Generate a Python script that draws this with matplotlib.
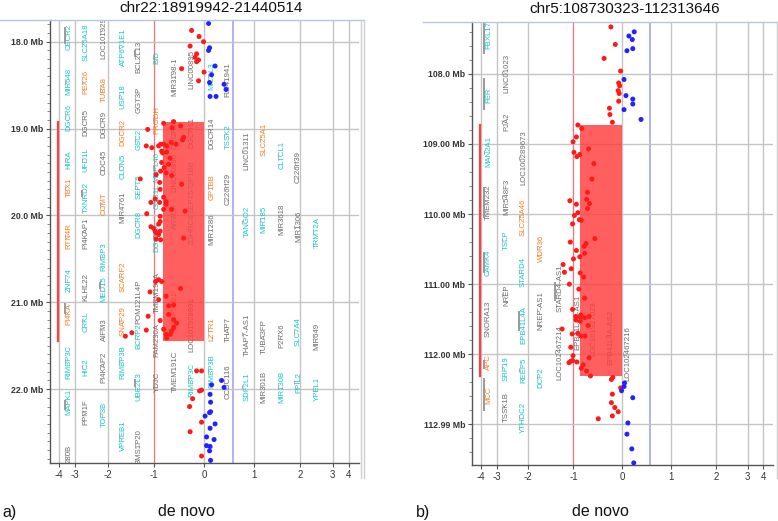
import numpy as np
import matplotlib
matplotlib.use("Agg")
import matplotlib.pyplot as plt
import matplotlib.transforms as mtransforms
from matplotlib.lines import Line2D
from matplotlib.patches import Rectangle

plt.rcParams['font.family'] = ['Liberation Sans', 'DejaVu Sans']

# ---- data panel a : chr22 ----
titre_a = "chr22:18919942-21440514"
cnv_a = (18.919942, 21.440514)
rect_a_x = -0.82
ylim_a = (22.85, 17.75)
yticks_a = [18, 19, 20, 21, 22]
ylabels_a = ["18.0 Mb", "19.0 Mb", "20.0 Mb", "21.0 Mb", "22.0 Mb"]

red_a = [(-0.25, 17.87), (-0.10, 17.94), (-0.01, 18.00), (-0.28, 18.05), (-0.15, 18.14),
         (-0.18, 18.18), (-0.11, 18.21), (-0.15, 18.23), (-0.45, 18.31), (0.00, 18.35),
         (-0.11, 18.45),
         (-0.61, 18.92), (-0.81, 18.94), (-0.47, 18.97), (-0.64, 18.99), (-1.14, 19.01),
         (-0.41, 19.10), (-0.43, 19.13), (-0.66, 19.16), (-0.56, 19.18), (-0.81, 19.18),
         (-0.87, 19.18), (-1.17, 19.20), (-0.75, 19.20), (-0.91, 19.20), (-1.05, 19.22),
         (-0.85, 19.26), (-0.75, 19.27), (-0.83, 19.28), (-0.68, 19.34), (-0.85, 19.39),
         (-0.71, 19.41), (-0.80, 19.45), (-0.87, 19.49), (-0.76, 19.51), (-0.96, 19.53),
         (-0.65, 19.54), (-1.30, 19.58), (-0.89, 19.62), (-0.45, 19.64), (-0.88, 19.70),
         (-0.81, 19.79), (-0.98, 19.81), (-0.76, 19.84), (-1.07, 19.85), (-0.89, 19.85),
         (-0.76, 19.87), (-0.81, 19.93), (-0.65, 19.93), (-0.38, 19.95), (-1.16, 19.98),
         (-0.88, 20.01), (-0.88, 20.07), (-0.91, 20.10), (-1.07, 20.13), (-1.01, 20.15),
         (-0.98, 20.18), (-0.88, 20.18), (-0.96, 20.20), (-0.91, 20.22), (-0.41, 20.26),
         (-0.96, 20.27), (-0.87, 20.28), (-0.91, 20.74), (-0.97, 20.76), (-0.85, 20.76),
         (-0.47, 20.84), (-1.09, 20.88), (-0.76, 20.93), (-0.91, 20.97), (-0.61, 21.03),
         (-0.71, 21.04), (-0.71, 21.14), (-1.13, 21.16), (-0.61, 21.20), (-0.88, 21.21),
         (-0.55, 21.24), (-0.61, 21.29), (-0.81, 21.31), (-1.17, 21.32), (-0.65, 21.33),
         (-1.48, 21.35), (-0.68, 21.37), (-0.76, 21.37), (-1.62, 21.39), (-0.75, 21.41),
         (-0.15, 21.79), (-0.05, 21.79), (-0.09, 22.02), (-0.05, 22.01), (-0.23, 22.11),
         (-0.29, 22.20), (-0.05, 22.38), (-0.28, 22.49), (-0.05, 22.77)]
blue_a = [(0.09, 17.79), (0.11, 18.07), (0.09, 18.10), (0.22, 18.28), (0.15, 18.38),
          (0.11, 18.47), (0.40, 18.49), (0.44, 18.55), (0.12, 18.63), (0.24, 18.63),
          (0.35, 21.90), (0.15, 21.95), (0.40, 21.98), (0.12, 22.06), (0.13, 22.15),
          (0.13, 22.26), (0.11, 22.27), (0.02, 22.31), (0.22, 22.40), (0.12, 22.45),
          (0.05, 22.55), (0.20, 22.58), (0.05, 22.65), (0.12, 22.66), (0.11, 22.71),
          (0.13, 22.82)]

# gene, x, y, colour code (c=cyan, o=orange, g=grey)
genes_a = [
    ("CECR2", -3.38, 17.95, 'c'), ("MIR648", -3.38, 18.46, 'c'), ("DGCR6", -3.38, 18.87, 'c'),
    ("HIRA", -3.38, 19.36, 'c'), ("TBX1", -3.38, 19.68, 'o'), ("RTN4R", -3.38, 20.24, 'o'),
    ("ZNF74", -3.38, 20.74, 'c'), ("PI4KA", -3.38, 21.14, 'o'), ("RIMBP3C", -3.38, 21.69, 'c'),
    ("MAPK1", -3.38, 22.15, 'c'), ("280B", -3.38, 22.75, 'g'),
    ("SLC25A18", -2.66, 18.01, 'c'), ("PEX26", -2.66, 18.46, 'o'), ("DGCR5", -2.66, 18.93, 'g'),
    ("UFD1L", -2.66, 19.36, 'c'), ("TXNRD2", -2.66, 19.79, 'c'), ("PI4KAP1", -2.66, 20.20, 'g'),
    ("KLHL22", -2.66, 20.82, 'g'), ("CRKL", -2.66, 21.22, 'c'), ("HIC2", -2.66, 21.75, 'c'),
    ("PPM1F", -2.66, 22.26, 'g'),
    ("LOC101929372", -2.11, 17.88, 'g'), ("TUBA8", -2.11, 18.55, 'o'), ("DGCR9", -2.11, 18.95, 'g'),
    ("CDC45", -2.11, 19.39, 'g'), ("COMT", -2.11, 19.87, 'o'), ("RIMBP3", -2.11, 20.48, 'c'),
    ("MED15", -2.11, 20.85, 'c'), ("AIFM3", -2.11, 21.31, 'g'), ("PI4KAP2", -2.11, 21.75, 'g'),
    ("TOP3B", -2.11, 22.29, 'c'),
    ("ATP6V1E1", -1.67, 18.06, 'c'), ("USP18", -1.67, 18.63, 'c'), ("DGCR2", -1.67, 19.05, 'o'),
    ("CLDN5", -1.67, 19.44, 'c'), ("MIR4761", -1.67, 19.90, 'g'), ("SCARF2", -1.67, 20.70, 'o'),
    ("SNAP29", -1.67, 21.22, 'o'), ("RIMBP3B", -1.67, 21.69, 'c'), ("VPREB1", -1.67, 22.54, 'c'),
    ("BCL2L13", -1.32, 18.18, 'g'), ("GGT3P", -1.32, 18.67, 'g'), ("GSC2", -1.32, 19.13, 'c'),
    ("SEPT5", -1.32, 19.67, 'c'), ("DGCR8", -1.32, 20.10, 'c'), ("POM121L4P", -1.32, 21.00, 'g'),
    ("BCRP2", -1.32, 21.39, 'c'), ("UBE2L3", -1.32, 21.97, 'c'), ("BMS1P20", -1.32, 22.66, 'g'),
    ("BID", -0.94, 18.18, 'c'), ("PRODH", -0.94, 18.90, 'o'), ("MRPL40", -0.94, 19.44, 'c'),
    ("GNB1L", -0.94, 19.78, 'c'), ("DGCR6L", -0.94, 20.24, 'c'), ("TMEM191A", -0.94, 20.89, 'g'),
    ("FAM230A", -0.94, 21.43, 'g'), ("YDJC", -0.94, 21.92, 'g'),
    ("MIR3198-1", -0.58, 18.40, 'g'), ("DGCR10", -0.58, 19.05, 'g'), ("LINC00896", -0.58, 19.51, 'g'),
    ("ARVCF", -0.58, 20.01, 'c'), ("SERPIND1", -0.58, 21.10, 'o'), ("TMEM191C", -0.58, 21.79, 'g'),
    ("LINC00895", -0.24, 18.32, 'g'), ("DGCR11", -0.24, 19.05, 'g'), ("SEPT5-GP1BB", -0.24, 19.67, 'c'),
    ("ZDHHC8", -0.24, 20.16, 'c'), ("LOC101928891", -0.24, 21.25, 'g'), ("RIMBP3C", -0.24, 21.89, 'c'),
    ("MICAL3", 0.16, 18.40, 'c'), ("DGCR14", 0.16, 19.05, 'g'), ("GP1BB", 0.16, 19.67, 'o'),
    ("MIR1286", 0.16, 20.16, 'g'), ("LZTR1", 0.16, 21.31, 'o'), ("RIMBP3B", 0.16, 21.79, 'c'),
    ("FLJ41941", 0.48, 18.44, 'g'), ("TSSK2", 0.48, 19.09, 'c'), ("C22orf29", 0.48, 19.70, 'g'),
    ("THAP7", 0.48, 21.31, 'g'), ("CCDC116", 0.48, 21.92, 'g'),
    ("LINC01311", 0.86, 19.26, 'g'), ("TANGO2", 0.86, 20.07, 'c'), ("THAP7-AS1", 0.86, 21.37, 'g'),
    ("SDF2L1", 0.86, 21.97, 'c'),
    ("SLC25A1", 1.22, 19.13, 'o'), ("MIR185", 1.22, 20.05, 'c'), ("TUBA3FP", 1.22, 21.39, 'g'),
    ("MIR301B", 1.22, 21.97, 'g'),
    ("CLTCL1", 1.61, 19.30, 'c'), ("MIR3618", 1.61, 20.05, 'g'), ("P2RX6", 1.61, 21.39, 'g'),
    ("MIR130B", 1.61, 21.97, 'c'),
    ("C22orf39", 1.96, 19.44, 'g'), ("MIR1306", 1.96, 20.13, 'g'), ("SLC7A4", 1.96, 21.34, 'c'),
    ("PPIL2", 1.96, 21.92, 'c'),
    ("TRMT2A", 2.52, 20.20, 'c'), ("MIR649", 2.52, 21.39, 'g'), ("YPEL1", 2.52, 22.00, 'c'),
]
spans_a = [(-3.38, 17.84, 18.01), (-3.38, 21.02, 21.12), (-3.38, 22.14, 22.23),
           (-1.32, 18.11, 18.17), (-2.66, 19.72, 19.78), (-2.11, 20.78, 20.84),
           (-1.32, 21.90, 21.96)]

# ---- data panel b : chr5 ----
titre_b = "chr5:108730323-112313646"
cnv_b = (108.730323, 112.313646)
rect_b_x = -0.87
ylim_b = (113.58, 107.26)
yticks_b = [108, 109, 110, 111, 112, 113]
ylabels_b = ["108.0 Mb", "109.00 Mb", "110.00 Mb", "111.00 Mb", "112.00 Mb", "112.99 Mb"]

red_b = [(-0.23, 107.33), (-0.14, 107.58), (-0.37, 107.78), (-0.03, 107.96), (-0.07, 108.13),
         (-0.05, 108.17), (-0.08, 108.24), (-0.06, 108.28), (-0.07, 108.39), (-0.26, 108.49),
         (-0.25, 108.58), (-0.20, 108.69),
         (-0.91, 108.73), (-0.83, 108.78), (-0.94, 108.90), (-1.01, 108.97), (-0.69, 109.07),
         (-0.99, 109.12), (-0.87, 109.15), (-0.93, 109.18), (-0.58, 109.28), (-0.62, 109.50),
         (-0.71, 109.69), (-0.73, 109.79), (-1.08, 109.81), (-0.67, 109.85), (-0.94, 109.86),
         (-0.71, 109.92), (-0.91, 109.98), (-0.98, 110.02), (-0.88, 110.08), (-0.84, 110.09),
         (-1.02, 110.14), (-0.56, 110.35), (-1.07, 110.40), (-0.74, 110.42), (-0.78, 110.46),
         (-0.94, 110.52), (-0.77, 110.56), (-0.87, 110.61), (-1.00, 110.64), (-1.23, 110.72),
         (-1.05, 110.78), (-1.20, 110.83), (-0.86, 110.84), (-0.79, 110.90), (-1.09, 111.00),
         (-0.89, 111.07), (-0.77, 111.20), (-1.02, 111.36), (-0.85, 111.44), (-0.95, 111.46),
         (-0.86, 111.47), (-0.77, 111.48), (-0.68, 111.46), (-0.95, 111.51), (-0.86, 111.53),
         (-0.70, 111.59), (-1.25, 111.64), (-0.91, 111.70), (-1.03, 111.71), (-0.85, 111.74),
         (-0.76, 111.74), (-1.06, 111.90), (-1.01, 112.02), (-0.68, 112.05), (-1.02, 112.09),
         (-1.06, 112.10), (-0.93, 112.11), (-1.10, 112.12), (-0.80, 112.15), (-0.84, 112.20),
         (-0.73, 112.24), (-0.65, 112.31),
         (-0.19, 112.33), (-0.22, 112.36), (-0.03, 112.48), (-0.20, 112.57), (-0.22, 112.69),
         (-0.15, 112.76), (-0.08, 112.82), (-0.20, 112.88), (-0.49, 112.92)]
blue_b = [(0.25, 107.40), (0.14, 107.46), (0.21, 107.51), (0.22, 107.64), (0.10, 107.67),
          (0.04, 108.08), (0.08, 108.31), (0.22, 108.36), (0.22, 108.43), (0.04, 108.51),
          (0.39, 108.65), (0.05, 112.41), (0.04, 112.46), (-0.01, 112.52), (0.22, 112.62),
          (0.12, 112.98), (0.10, 113.14), (0.20, 113.35), (0.24, 113.55)]

genes_b = [
    ("FBXL17", -3.53, 107.45, 'c'), ("FER", -3.53, 108.30, 'c'), ("MAN2A1", -3.53, 109.11, 'c'),
    ("TMEM232", -3.53, 109.83, 'g'), ("CAMK4", -3.53, 110.69, 'c'), ("SNORA13", -3.53, 111.49, 'g'),
    ("APC", -3.53, 112.11, 'o'), ("MCC", -3.53, 112.58, 'o'),
    ("LINC01023", -2.69, 107.99, 'g'), ("PJA2", -2.69, 108.69, 'g'), ("MIR548F3", -2.69, 109.76, 'g'),
    ("TSLP", -2.69, 110.37, 'c'), ("NREP", -2.69, 111.16, 'g'), ("SRP19", -2.69, 112.20, 'c'),
    ("TSSK1B", -2.69, 112.76, 'g'),
    ("LOC100289673", -2.15, 109.20, 'g'), ("SLC25A46", -2.15, 110.04, 'o'), ("STARD4", -2.15, 110.83, 'c'),
    ("EPB41L4A", -2.15, 111.59, 'c'), ("REEP5", -2.15, 112.23, 'c'), ("YTHDC2", -2.15, 112.90, 'c'),
    ("WDR36", -1.71, 110.49, 'o'), ("NREP-AS1", -1.71, 111.37, 'g'), ("DCP2", -1.71, 112.33, 'c'),
    ("STARD4-AS1", -1.30, 111.06, 'g'), ("LOC102467214", -1.30, 111.97, 'g'),
    ("EPB41L4A-AS1", -0.91, 111.54, 'g'), ("LOC101927023", -0.58, 111.63, 'g'),
    ("EPB41L4A-AS2", -0.23, 111.76, 'g'), ("LOC102467216", 0.12, 111.99, 'g'),
]
spans_b = [(-3.53, 107.26, 107.70), (-3.53, 108.08, 108.50), (-3.53, 109.63, 110.04),
           (-3.53, 110.56, 110.83), (-3.53, 112.09, 112.19), (-3.53, 112.36, 112.80),
           (-1.30, 110.98, 111.22), (-2.15, 111.40, 111.65)]

xticks = [-4, -3, -2, -1, 0, 1, 2, 3, 4]

# echelle x compressee sur les bords (comme le logiciel)
KX = np.array([-6, -5, -4, -3, -2, -1, 0, 1, 2, 3, 4, 5, 6])
KU = np.array([-3.58, -3.24, -2.9, -2.58, -1.93, -1, 0, 1, 1.93, 2.58, 2.9, 3.24, 3.58])

def fwd(x):
    return np.interp(x, KX, KU)

def inv(u):
    return np.interp(u, KU, KX)

COLORS = {'c': '#16c6c9', 'o': '#ff7a1e', 'g': '#6a6a6a'}
W, H = 778, 521


def panel(fig, rect, cnv, rect_x, ylim, yticks, ylabels, red, blue, genes, spans, minor):
    ax = fig.add_axes(rect)
    ax.set_xscale('function', functions=(fwd, inv))
    ax.set_xlim(-4.55, 4.6)
    ax.set_ylim(*ylim)

    # grille
    for xv in xticks:
        if xv == -1:
            ax.axvline(xv, color='#ff7070', lw=0.9, zorder=1)
        else:
            ax.axvline(xv, color='#c4c4c4', lw=1.0, zorder=1)
    ax.axvline(0.58, color='#aaaaf5', lw=1.3, zorder=1)
    for yv in yticks:
        ax.axhline(yv, color='#c4c4c4', lw=1.0, zorder=1)

    # genes
    off = mtransforms.offset_copy(ax.transData, fig=fig, x=-4.5, y=0, units='dots')
    for name, gx, gy, c in genes:
        ax.text(gx, gy, name, rotation=90, ha='center', va='center', fontsize=5.6,
                color=COLORS[c], clip_on=True, zorder=2)
    ax.scatter([g[1] for g in genes], [g[2] for g in genes], marker='|', s=6,
               color='#a8a8a8', lw=0.8, transform=off, zorder=2)
    for sx, y0, y1 in spans:
        ax.plot([sx, sx], [y0, y1], color='#9a9a9a', lw=1.4, transform=off, zorder=2)

    # segment CNV
    ax.plot([-4.08, -4.08], list(cnv), color='#ff4040', lw=1.6, zorder=3)
    ax.add_patch(Rectangle((rect_x, cnv[0]), -rect_x, cnv[1] - cnv[0],
                           facecolor='#ff3c3c', edgecolor='none', alpha=0.82, zorder=3))

    rx, ry = zip(*red)
    bx, by = zip(*blue)
    ax.scatter(rx, ry, s=13, color='#ff1a1a', edgecolors='none', zorder=4)
    ax.scatter(bx, by, s=13, color='#2222ff', edgecolors='none', zorder=4)

    ax.set_xticks(xticks)
    ax.set_xticklabels([str(v) for v in xticks], fontsize=7, color='#333333')
    ax.set_yticks(yticks)
    ax.set_yticklabels(ylabels, fontsize=6.3, fontweight='bold', color='#333333')
    ax.set_yticks(np.arange(np.ceil(ylim[1] / minor) * minor, ylim[0], minor), minor=True)
    ax.tick_params(axis='y', which='major', length=3, width=0.8, color='#555555', pad=2)
    ax.tick_params(axis='y', which='minor', length=2, width=0.6, color='#777777')
    ax.tick_params(axis='x', length=3, width=0.8, color='#555555', pad=2)
    ax.xaxis.set_minor_locator(matplotlib.ticker.NullLocator())
    for s in ['top', 'right']:
        ax.spines[s].set_visible(False)
    for s in ['left', 'bottom']:
        ax.spines[s].set_color('#555555')
        ax.spines[s].set_linewidth(1.0)
    return ax


fig = plt.figure(figsize=(W / 100, H / 100), dpi=100)

ax_a = panel(fig, [50 / W, 1 - 463 / H, 309 / W, 443 / H], cnv_a, rect_a_x, ylim_a,
             yticks_a, ylabels_a, red_a, blue_a, genes_a, spans_a, 0.1)
ax_b = panel(fig, [472 / W, 1 - 465 / H, 301 / W, 443 / H], cnv_b, rect_b_x, ylim_b,
             yticks_b, ylabels_b, red_b, blue_b, genes_b, spans_b, 0.2)

# cadres du logiciel
def fline(x, y, color, lw=1.0):
    fig.add_artist(Line2D([v / W for v in x], [1 - v / H for v in y], color=color, lw=lw,
                          transform=fig.transFigure))

fline([0, 364], [20, 20], '#b6c6dc')
fline([361, 361], [20, 478], '#cfcfcf')
fline([364, 364], [20, 478], '#cfcfcf')
fline([423, 778], [22, 22], '#b6c6dc')
fline([776.5, 776.5], [22, 478], '#cfcfcf')

fig.text(211 / W, 1 - 8 / H, titre_a, ha='center', va='center', fontsize=11, color='#111111')
fig.text(625 / W, 1 - 9 / H, titre_b, ha='center', va='center', fontsize=11, color='#111111')
fig.text(2 / W, 1 - 512 / H, "a)", ha='left', va='center', fontsize=11.5, color='#111111')
fig.text(186 / W, 1 - 511 / H, "de novo", ha='center', va='center', fontsize=11.5, color='#111111')
fig.text(416 / W, 1 - 512 / H, "b)", ha='left', va='center', fontsize=11.5, color='#111111')
fig.text(600 / W, 1 - 511 / H, "de novo", ha='center', va='center', fontsize=11.5, color='#111111')

fig.savefig("out.png", dpi=100)
